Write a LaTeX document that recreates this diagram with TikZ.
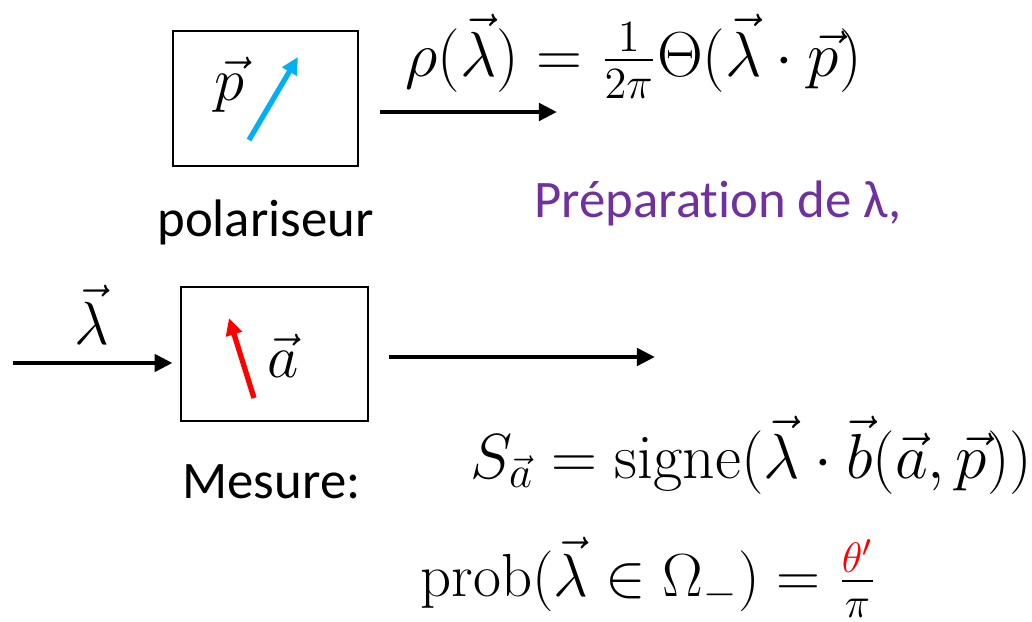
\RequirePackage{fix-cm}
\documentclass[tikz,border=0pt]{standalone}
\usepackage{fontspec}
\newfontfamily\calfont[Ligatures=NoCommon]{Carlito}
\usepackage{xcolor}
\usetikzlibrary{positioning,arrows.meta}
\definecolor{polblue}{HTML}{00B0F0}
\definecolor{prepviolet}{HTML}{7030A0}

\begin{document}
\begin{tikzpicture}[
    x=0.01cm, y=-0.01cm,
    device/.style={rectangle, draw, line width=0.8pt, minimum width=1.85cm, minimum height=1.35cm, inner sep=0pt},
    arrow/.style={-{Triangle[length=0.18cm, width=0.17cm]}, line width=1.3pt},
    spin/.style={-{Triangle[length=0.17cm, width=0.16cm]}, line width=1.5pt},
    caption/.style={font=\calfont\fontsize{15}{18}\selectfont},
    eq/.style={font=\fontsize{17.3}{20}\selectfont, inner sep=0pt},
    bigeq/.style={font=\fontsize{18.1}{21}\selectfont, inner sep=0pt}
]
    \useasboundingbox (0,0) rectangle (1032,622);

    % preparation
    \node[device] (polar) at (265.5,98.5) {};
    \node[eq] (pvec) at (229,85) {$\vec{p}$};
    \draw[spin, polblue] (249,140) -- (298,57);
    \node[caption, below=0.2cm of polar] (polname) {polariseur};
    \coordinate (pstart) at (380,112);
    \coordinate (pend) at (557,112);
    \draw[arrow] (pstart) -- (pend);
    \node[bigeq, anchor=west] (rho) at (405,56) {$\rho(\vec{\lambda}) = \frac{1}{2\pi}\Theta(\vec{\lambda}\cdot\vec{p})$};
    \node[caption, text=prepviolet, anchor=west] (prep) at (522,203) {Préparation de λ,};

    % mesure
    \node[device, minimum width=1.87cm, minimum height=1.34cm] (mesure) at (274.5,354) {};
    \node[eq] (avec) at (283,356) {$\vec{a}$};
    \draw[spin, red] (254,398) -- (229,318);
    \coordinate (lamin) at (13,363);
    \draw[arrow, shorten >=0.07cm] (lamin) -- (lamin -| mesure.west);
    \node[eq] (lamvec) at (92,315) {$\vec{\lambda}$};
    \coordinate (sout) at (655,357);
    \draw[arrow] ([xshift=0.2cm]mesure.east |- sout) -- (sout);
    \node[caption, below=0.3cm of mesure, xshift=-0.03cm] (mesname) {Mesure:};
    \node[bigeq, anchor=west] (sign) at (470,455) {$S_{\vec{a}} = \mathrm{signe}(\vec{\lambda}\cdot\vec{b}(\vec{a},\vec{p}))$};
    \node[eq, anchor=west] (prob) at (420,577) {$\mathrm{prob}(\vec{\lambda}\in\Omega_{-}) = \frac{\color{red}\theta'}{\pi}$};
\end{tikzpicture}
\end{document}
